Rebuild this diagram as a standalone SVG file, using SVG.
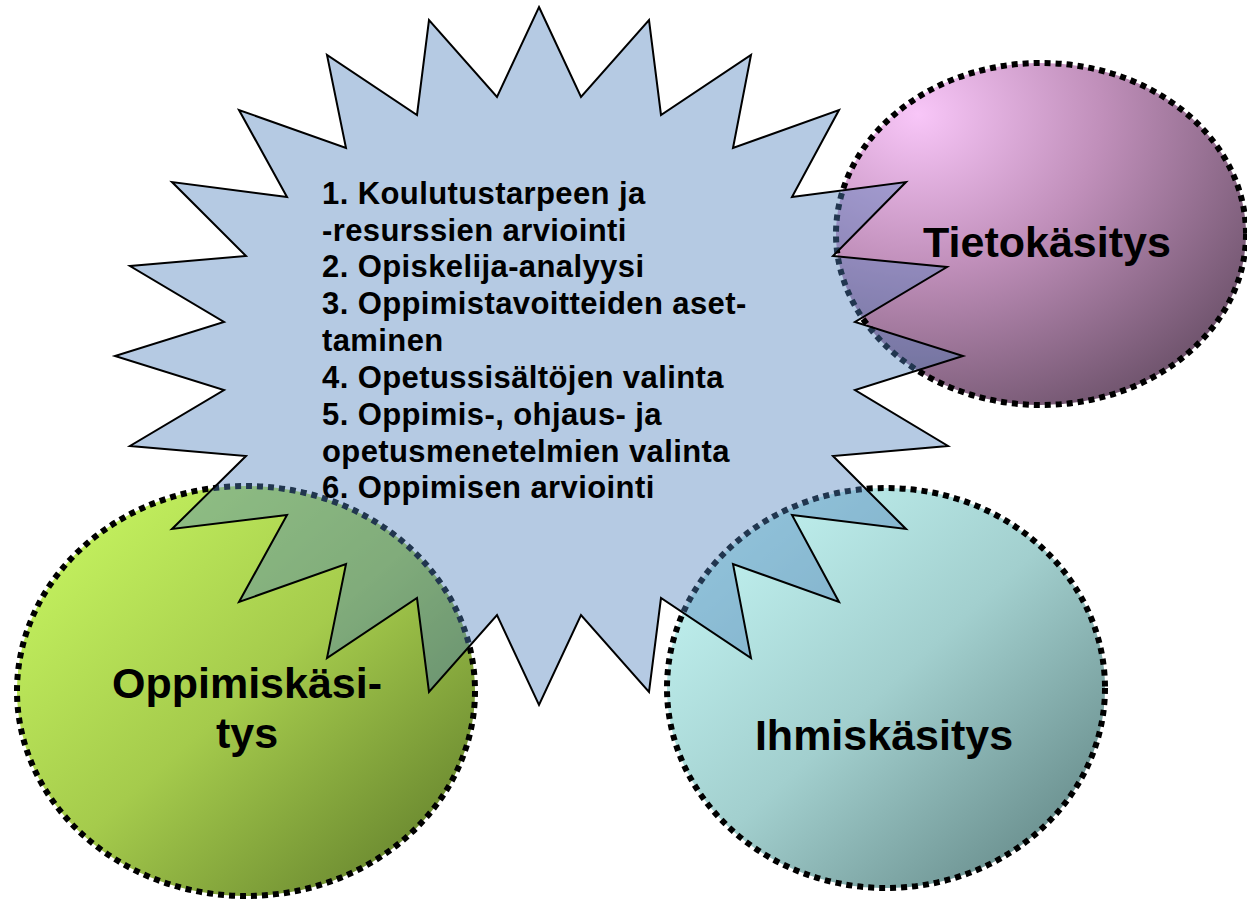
<svg xmlns="http://www.w3.org/2000/svg" width="1247" height="900" viewBox="0 0 1247 900">
  <style>
    .ring { stroke: #000; stroke-width: 6; stroke-dasharray: 6 5; }
    .burst { fill: #4F81BD; fill-opacity: 0.42; stroke: #000; stroke-width: 2; stroke-linejoin: miter; }
    .list { font-family: "Liberation Sans", Arial, sans-serif; font-weight: bold; font-size: 31px; letter-spacing: 0.4px; fill: #000; }
    .label { font-family: "Liberation Sans", Arial, sans-serif; font-weight: bold; font-size: 43px; fill: #000; text-anchor: middle; }
  </style>
  <defs>
    <radialGradient id="gPink" cx="0.2" cy="0.15" r="1" fx="0.2" fy="0.15">
      <stop offset="0" stop-color="#F8C6F8"/>
      <stop offset="0.45" stop-color="#C08FBA"/>
      <stop offset="1" stop-color="#6A5068"/>
    </radialGradient>
    <linearGradient id="gGreen" x1="0" y1="0" x2="1" y2="1">
      <stop offset="0" stop-color="#CBFB63"/>
      <stop offset="0.5" stop-color="#A5CB4C"/>
      <stop offset="1" stop-color="#5A7628"/>
    </linearGradient>
    <linearGradient id="gTeal" x1="0" y1="0" x2="1" y2="1">
      <stop offset="0" stop-color="#C9FBF9"/>
      <stop offset="0.5" stop-color="#A2CFCE"/>
      <stop offset="1" stop-color="#5A7D7C"/>
    </linearGradient>
  </defs>

  <rect width="1247" height="900" fill="#fff"/>

  <!-- three outlook circles -->
  <g id="node-tietokasitys">
    <ellipse cx="1041" cy="234" rx="205" ry="171" fill="url(#gPink)" class="ring"/>
  </g>
  <g id="node-oppimiskasitys">
    <ellipse cx="246" cy="691" rx="229" ry="205" fill="url(#gGreen)" class="ring"/>
  </g>
  <g id="node-ihmiskasitys">
    <ellipse cx="886" cy="688" rx="219" ry="200" fill="url(#gTeal)" class="ring"/>
  </g>

  <!-- central planning starburst -->
  <g id="node-planning">
    <polygon class="burst" points="539,7 581,97 649,20 661,115 751,55 733,148 839,110 792,197 906,182 833,256 947,267 855,322 963,356 855,390 948,446 833,456 906,529 792,515 839,602 733,564 751,658 661,598 649,692 581,615 539,705 497,615 429,692 417,598 327,658 346,564 239,602 287,515 172,529 246,456 130,446 224,390 115,356 224,322 130,266 246,256 172,182 287,197 239,110 346,148 327,55 417,115 429,20 497,97"/>
    <text class="list" x="322" y="204">1. Koulutustarpeen ja</text>
    <text class="list" x="322" y="241">-resurssien arviointi</text>
    <text class="list" x="322" y="277">2. Opiskelija-analyysi</text>
    <text class="list" x="322" y="314">3. Oppimistavoitteiden aset-</text>
    <text class="list" x="322" y="351">taminen</text>
    <text class="list" x="322" y="388">4. Opetussisältöjen valinta</text>
    <text class="list" x="322" y="425">5. Oppimis-, ohjaus- ja</text>
    <text class="list" x="322" y="462">opetusmenetelmien valinta</text>
    <text class="list" x="322" y="498">6. Oppimisen arviointi</text>
  </g>

  <!-- circle labels -->
  <g id="labels">
    <text class="label" x="1047" y="257">Tietokäsitys</text>
    <text class="label" x="247" y="698">Oppimiskäsi-</text>
    <text class="label" x="247" y="748">tys</text>
    <text class="label" x="884" y="750">Ihmiskäsitys</text>
  </g>

  <g id="connectors"/>
</svg>
